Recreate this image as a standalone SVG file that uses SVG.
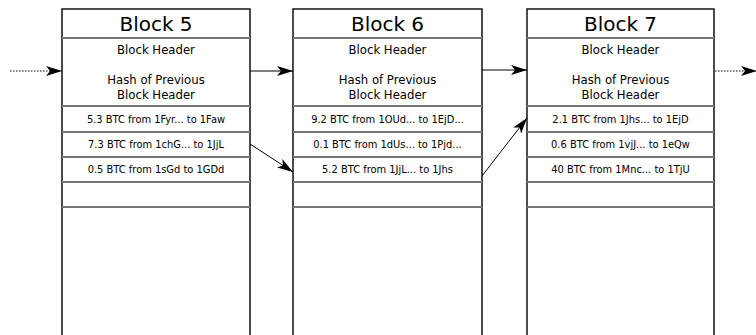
<svg xmlns="http://www.w3.org/2000/svg" width="756" height="335" viewBox="0 0 756 335">
<style>
.box{fill:#fff;stroke:#000;stroke-width:1.4}
.sep{stroke:#777;stroke-width:2}
.title{font-family:"DejaVu Sans",sans-serif;font-size:20px;text-anchor:middle;fill:#000}
.hdr{font-family:"DejaVu Sans",sans-serif;font-size:11.7px;text-anchor:middle;fill:#000}
.tx{font-family:"DejaVu Sans",sans-serif;font-size:9.9px;text-anchor:middle;fill:#000}
.ln{stroke:#000;stroke-width:1;fill:none}
.dot{stroke:#000;stroke-width:1;fill:none;stroke-dasharray:1.5 1.5}
</style>
<defs>
<marker id="ah" viewBox="0 0 16 10" refX="16" refY="5" markerWidth="16" markerHeight="10" markerUnits="userSpaceOnUse" orient="auto">
<path d="M0,0 L16,5 L0,10 L4,5 Z" fill="#000"/>
</marker>
</defs>
<g id="block5">
<rect class="box" x="62" y="9" width="188" height="330"/>
<line class="sep" x1="62" y1="38" x2="250" y2="38"/>
<line class="sep" x1="62" y1="106" x2="250" y2="106"/>
<line class="sep" x1="62" y1="132" x2="250" y2="132"/>
<line class="sep" x1="62" y1="157" x2="250" y2="157"/>
<line class="sep" x1="62" y1="182" x2="250" y2="182"/>
<line class="sep" x1="62" y1="207" x2="250" y2="207"/>
<text class="title" x="156" y="31">Block 5</text>
<text class="hdr" x="156" y="54">Block Header</text>
<text class="hdr" x="156" y="84">Hash of Previous</text>
<text class="hdr" x="156" y="98.5">Block Header</text>
<text class="tx" x="156" y="122.5">5.3 BTC from 1Fyr... to 1Faw</text>
<text class="tx" x="156" y="147.5">7.3 BTC from 1chG... to 1JjL</text>
<text class="tx" x="156" y="172.5">0.5 BTC from 1sGd to 1GDd</text>
</g>
<g id="block6">
<rect class="box" x="293" y="9" width="189" height="330"/>
<line class="sep" x1="293" y1="38" x2="482" y2="38"/>
<line class="sep" x1="293" y1="106" x2="482" y2="106"/>
<line class="sep" x1="293" y1="132" x2="482" y2="132"/>
<line class="sep" x1="293" y1="157" x2="482" y2="157"/>
<line class="sep" x1="293" y1="182" x2="482" y2="182"/>
<line class="sep" x1="293" y1="207" x2="482" y2="207"/>
<text class="title" x="387.5" y="31">Block 6</text>
<text class="hdr" x="387.5" y="54">Block Header</text>
<text class="hdr" x="387.5" y="84">Hash of Previous</text>
<text class="hdr" x="387.5" y="98.5">Block Header</text>
<text class="tx" x="387.5" y="122.5">9.2 BTC from 1OUd... to 1EjD...</text>
<text class="tx" x="387.5" y="147.5">0.1 BTC from 1dUs... to 1Pjd...</text>
<text class="tx" x="387.5" y="172.5">5.2 BTC from 1JjL... to 1Jhs</text>
</g>
<g id="block7">
<rect class="box" x="527" y="9" width="187" height="330"/>
<line class="sep" x1="527" y1="38" x2="714" y2="38"/>
<line class="sep" x1="527" y1="106" x2="714" y2="106"/>
<line class="sep" x1="527" y1="132" x2="714" y2="132"/>
<line class="sep" x1="527" y1="157" x2="714" y2="157"/>
<line class="sep" x1="527" y1="182" x2="714" y2="182"/>
<line class="sep" x1="527" y1="207" x2="714" y2="207"/>
<text class="title" x="620.5" y="31">Block 7</text>
<text class="hdr" x="620.5" y="54">Block Header</text>
<text class="hdr" x="620.5" y="84">Hash of Previous</text>
<text class="hdr" x="620.5" y="98.5">Block Header</text>
<text class="tx" x="620.5" y="122.5">2.1 BTC from 1Jhs... to 1EjD</text>
<text class="tx" x="620.5" y="147.5">0.6 BTC from 1vjJ... to 1eQw</text>
<text class="tx" x="620.5" y="172.5">40 BTC from 1Mnc... to 1TjU</text>
</g>
<g id="connectors">
<line class="dot" x1="10" y1="71" x2="62" y2="71" marker-end="url(#ah)"/>
<line class="ln" x1="250" y1="71" x2="293" y2="71" marker-end="url(#ah)"/>
<line class="ln" x1="482" y1="70" x2="527" y2="70" marker-end="url(#ah)"/>
<line class="dot" x1="715" y1="71" x2="757" y2="71" marker-end="url(#ah)"/>
<line class="ln" x1="250" y1="144" x2="293" y2="172" marker-end="url(#ah)"/>
<line class="ln" x1="482" y1="176" x2="527" y2="118" marker-end="url(#ah)"/>
</g>
</svg>
